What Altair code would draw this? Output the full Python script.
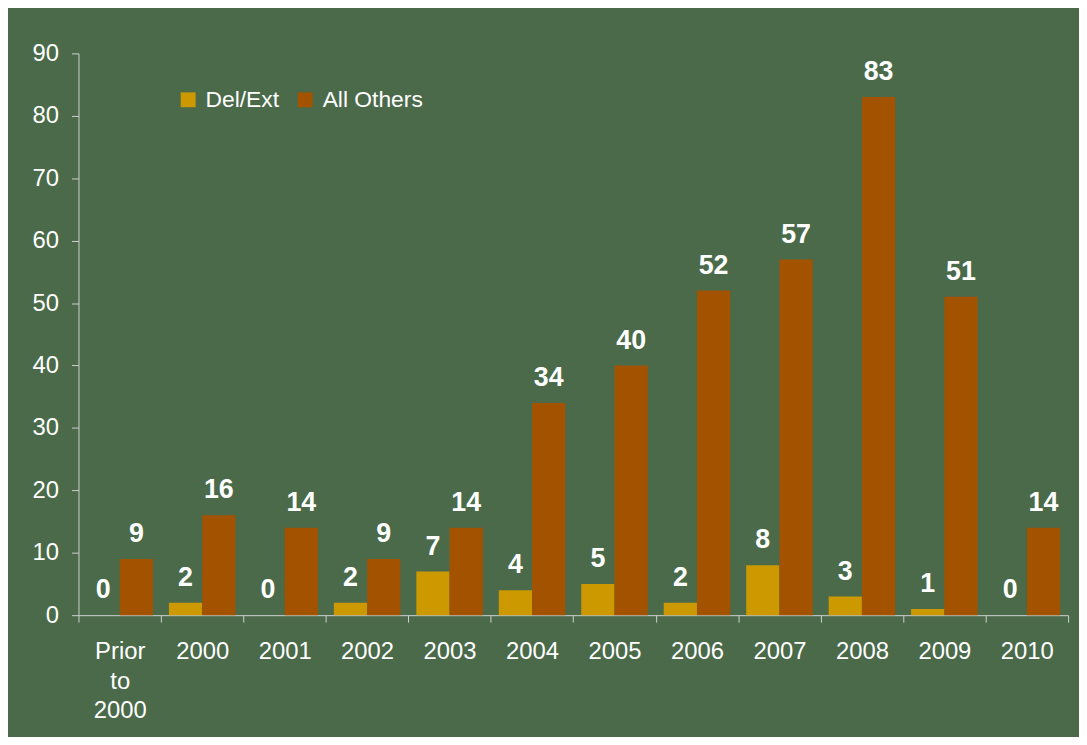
import altair as alt
import pandas as pd

categories = ["Prior to 2000", "2000", "2001", "2002", "2003", "2004", "2005",
              "2006", "2007", "2008", "2009", "2010"]
del_ext = [0, 2, 0, 2, 7, 4, 5, 2, 8, 3, 1, 0]
all_others = [9, 16, 14, 9, 14, 34, 40, 52, 57, 83, 51, 14]
series_names = ["Del/Ext", "All Others"]
series_colors = ["#CC9900", "#A35200"]

rows = []
for c, a, b in zip(categories, del_ext, all_others):
    rows.append({"cat": c, "series": series_names[0], "value": a})
    rows.append({"cat": c, "series": series_names[1], "value": b})
df = pd.DataFrame(rows)

BG = "#4A6A4A"
FONT = "Liberation Sans"

x = alt.X("cat:N", sort=categories, title=None,
          scale=alt.Scale(paddingInner=0, paddingOuter=0),
          axis=alt.Axis(labelAngle=0, labelFontSize=24, labelColor="#FFFFFF",
                        labelFont=FONT, labelPadding=18, tickSize=7,
                        tickColor="#D0D0D0", domainColor="#D0D0D0",
                        tickBand="extent", labelLineHeight=29.5,
                        labelExpr="split(datum.label, ' ')", grid=False))
xo = alt.XOffset("series:N", sort=series_names,
                 scale=alt.Scale(paddingInner=0, paddingOuter=0.24))
y = alt.Y("value:Q", title=None,
          scale=alt.Scale(domain=[0, 90], nice=False),
          axis=alt.Axis(values=list(range(0, 91, 10)), labelFontSize=24,
                        labelColor="#FFFFFF", labelFont=FONT, labelPadding=13,
                        tickSize=7, tickColor="#D0D0D0", domainColor="#D0D0D0",
                        grid=False))

bars = alt.Chart(df).mark_bar().encode(
    x=x, xOffset=xo, y=y,
    color=alt.Color("series:N", sort=series_names, title=None,
                    scale=alt.Scale(domain=series_names, range=series_colors),
                    legend=alt.Legend(orient="none", legendX=99, legendY=35,
                                      direction="horizontal", symbolType="square",
                                      symbolSize=225, symbolStrokeWidth=0,
                                      labelFontSize=23, labelColor="#FFFFFF",
                                      labelFont=FONT, labelOffset=6,
                                      columnPadding=14)),
)

labels = alt.Chart(df).mark_text(
    fontSize=27, fontWeight="bold", color="#FFFFFF", font=FONT,
    baseline="alphabetic", dy=-17
).encode(x=x, xOffset=xo, y=y, text="value:Q")

chart = (bars + labels).properties(
    width=997, height=566,
    background=BG,
    padding={"left": 71, "top": 43, "right": 11, "bottom": 120},
    autosize=alt.AutoSizeParams(type="none"),
).configure_view(stroke=None)

chart.save("out.html", embed_options={"renderer": "svg", "actions": False})
